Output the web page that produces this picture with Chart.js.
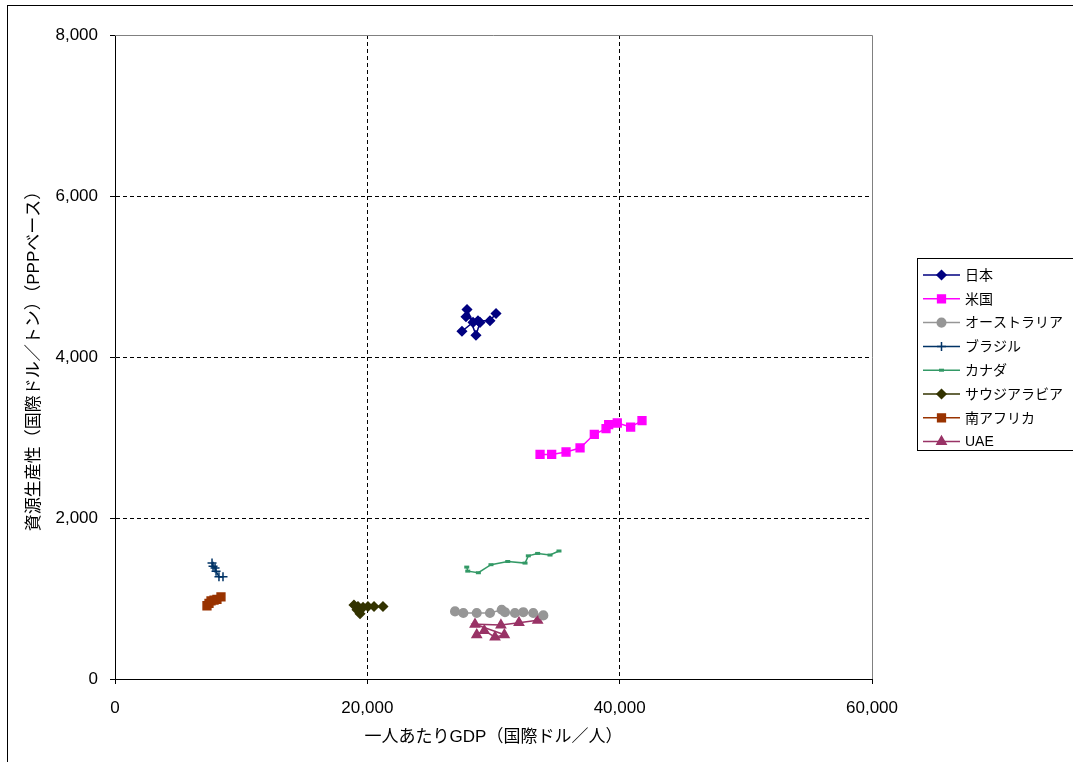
<!DOCTYPE html>
<html lang="ja">
<head>
<meta charset="utf-8">
<title>資源生産性と一人あたりGDP</title>
<script src="https://cdn.jsdelivr.net/npm/chart.js@4/dist/chart.umd.min.js"></script>
<style>
  html, body { margin: 0; padding: 0; background: #fff; }
  #wrap { position: relative; width: 1073px; height: 762px; }
</style>
</head>
<body>
<div id="wrap"><canvas id="productivityChart" width="1073" height="762"></canvas></div>
<script>
// GDP per capita (PPP int. $/person) vs resource productivity (PPP int. $/ton)
const countryNames = ['日本', '米国', 'オーストラリア', 'ブラジル', 'カナダ', 'サウジアラビア', '南アフリカ', 'UAE'];

const japanGdp = [27500, 28380, 27900, 28610, 28930, 27820, 28770, 29720, 30200];
const japanProd = [4320, 4430, 4590, 4270, 4430, 4500, 4450, 4450, 4540];

const usGdp = [33690, 34610, 35750, 36860, 37990, 38920, 39130, 39810, 40870, 41770];
const usProd = [2790, 2790, 2820, 2870, 3040, 3110, 3160, 3180, 3130, 3210];

const australiaGdp = [26950, 27610, 28670, 29720, 30650, 30910, 31700, 32360, 33150, 33950];
const australiaProd = [840, 820, 820, 820, 860, 830, 820, 830, 820, 790];

const brazilGdp = [7690, 7770, 7930, 8010, 8240, 8560];
const brazilProd = [1440, 1400, 1380, 1340, 1270, 1270];

const canadaGdp = [27880, 27960, 28800, 29800, 31130, 32500, 32760, 33500, 34480, 35190];
const canadaProd = [1390, 1340, 1320, 1420, 1460, 1440, 1530, 1560, 1540, 1590];

const saudiGdp = [18940, 19260, 19420, 19180, 19660, 20050, 20530, 21240];
const saudiProd = [920, 900, 810, 860, 890, 900, 900, 900];

const southAfricaGdp = [7290, 7450, 7610, 7850, 8080, 8400];
const southAfricaProd = [910, 940, 970, 980, 990, 1020];

const uaeGdp = [28670, 29270, 30120, 30860, 28530, 30590, 32020, 33500];
const uaeProd = [550, 600, 520, 550, 680, 670, 700, 730];

const yTicks = [0, 2000, 4000, 6000, 8000];
const xTicks = [0, 20000, 40000, 60000];

const FONT = "'Liberation Sans', 'Noto Sans CJK JP', Arial, sans-serif";

// marker styles per country
const seriesStyles = [
    { color: '#000080', point: 'rectRot', radius: 4.5 },
    { color: '#FF00FF', point: 'rect', radius: 5.5 },
    { color: '#969696', point: 'circle', radius: 4.3 },
    { color: '#003366', point: 'cross', radius: 4.5 },
    { color: '#339966', point: 'line', radius: 2.5, markerWidth: 3 },
    { color: '#333300', point: 'rectRot', radius: 4.5 },
    { color: '#993300', point: 'rect', radius: 5.5 },
    { color: '#993366', point: 'triangle', radius: 5.3 }
];

const seriesData = [
    [japanGdp, japanProd],
    [usGdp, usProd],
    [australiaGdp, australiaProd],
    [brazilGdp, brazilProd],
    [canadaGdp, canadaProd],
    [saudiGdp, saudiProd],
    [southAfricaGdp, southAfricaProd],
    [uaeGdp, uaeProd]
];

function toPoints(xs, ys) {
    return xs.map((x, i) => ({ x: x, y: ys[i] }));
}

const datasets = countryNames.map((name, i) => {
    const s = seriesStyles[i];
    return {
        label: name,
        data: toPoints(seriesData[i][0], seriesData[i][1]),
        showLine: true,
        borderColor: s.color,
        backgroundColor: s.color,
        borderWidth: 1.5,
        pointStyle: s.point,
        pointRadius: s.radius,
        pointHoverRadius: s.radius,
        pointBackgroundColor: s.color,
        pointBorderColor: s.color,
        pointBorderWidth: s.markerWidth || 1.5,
        tension: 0
    };
});

// outer frame, plot area edges and the legend box
const frameAndLegend = {
    id: 'frameAndLegend',
    beforeDatasetsDraw(chart) {
        const { ctx, chartArea } = chart;
        ctx.save();
        ctx.strokeStyle = '#808080';
        ctx.lineWidth = 1;
        ctx.beginPath();
        ctx.moveTo(chartArea.left, Math.round(chartArea.top) + 0.5);
        ctx.lineTo(Math.round(chartArea.right) + 0.5, Math.round(chartArea.top) + 0.5);
        ctx.lineTo(Math.round(chartArea.right) + 0.5, chartArea.bottom);
        ctx.stroke();
        ctx.restore();
    },
    afterDraw(chart) {
        const ctx = chart.ctx;
        ctx.save();
        ctx.strokeStyle = '#000';
        ctx.lineWidth = 1;
        ctx.strokeRect(7.5, 5.5, 1200, 1000);

        ctx.strokeRect(917.5, 258.5, 220, 192);
        ctx.font = '14px ' + FONT;
        ctx.textBaseline = 'middle';
        chart.data.datasets.forEach((ds, i) => {
            const y = 275 + i * 23.8;
            ctx.strokeStyle = ds.borderColor;
            ctx.lineWidth = ds.borderWidth;
            ctx.beginPath();
            ctx.moveTo(923, y);
            ctx.lineTo(960, y);
            ctx.stroke();
            ctx.fillStyle = ds.pointBackgroundColor;
            ctx.strokeStyle = ds.pointBorderColor;
            ctx.lineWidth = ds.pointBorderWidth;
            Chart.helpers.drawPoint(ctx, {
                pointStyle: ds.pointStyle,
                radius: ds.pointRadius,
                rotation: 0,
                borderWidth: ds.pointBorderWidth
            }, 941.5, y);
            ctx.fillStyle = '#000';
            ctx.fillText(ds.label, 965, y + 1);
        });
        ctx.restore();
    }
};

function gridColor(ctx) {
    const v = ctx.tick ? ctx.tick.value : null;
    return (v === 0 || v === 8000 || v === 60000) ? 'rgba(0,0,0,0)' : '#000';
}

document.addEventListener('DOMContentLoaded', function () {
    const canvas = document.getElementById('productivityChart');
    new Chart(canvas.getContext('2d'), {
        type: 'scatter',
        data: { datasets: datasets },
        plugins: [frameAndLegend],
        options: {
            responsive: false,
            animation: false,
            locale: 'en-US',
            layout: { padding: { left: 0, top: 35, right: 201, bottom: 0 } },
            plugins: {
                legend: { display: false },
                tooltip: { enabled: false }
            },
            scales: {
                x: {
                    type: 'linear',
                    min: xTicks[0],
                    max: xTicks[xTicks.length - 1],
                    afterBuildTicks: axis => { axis.ticks = xTicks.map(v => ({ value: v })); },
                    afterFit: axis => { axis.height = 83; },
                    ticks: { color: '#000', font: { family: FONT, size: 17 }, padding: 14, maxRotation: 0 },
                    grid: {
                        color: gridColor,
                        tickColor: '#000',
                        tickBorderDash: [],
                        tickLength: 5
                    },
                    border: { display: true, color: '#000', width: 1, dash: [4, 3] },
                    title: {
                        display: true,
                        text: '一人あたりGDP（国際ドル／人）',
                        color: '#000',
                        font: { family: FONT, size: 17 },
                        padding: { top: 0, bottom: 14 }
                    }
                },
                y: {
                    type: 'linear',
                    min: yTicks[0],
                    max: yTicks[yTicks.length - 1],
                    afterBuildTicks: axis => { axis.ticks = yTicks.map(v => ({ value: v })); },
                    afterFit: axis => { axis.width = 115; },
                    ticks: { color: '#000', font: { family: FONT, size: 17 }, padding: 12 },
                    grid: {
                        color: gridColor,
                        tickColor: '#000',
                        tickBorderDash: [],
                        tickLength: 5
                    },
                    border: { display: true, color: '#000', width: 1, dash: [4, 3] },
                    title: {
                        display: true,
                        text: '資源生産性（国際ドル／トン）（PPPベース）',
                        color: '#000',
                        font: { family: FONT, size: 17 },
                        padding: { top: 24, bottom: 0 }
                    }
                }
            }
        }
    });
});
</script>
</body>
</html>
